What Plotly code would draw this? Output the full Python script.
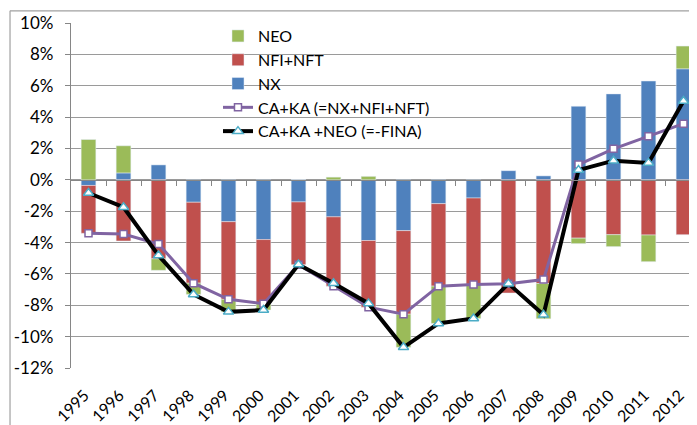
import plotly.graph_objects as go

years = [str(y) for y in range(1995, 2013)]
nx = [-0.36, 0.44, 0.95, -1.43, -2.67, -3.81, -1.41, -2.36, -3.87, -3.24,
      -1.52, -1.16, 0.59, 0.25, 4.69, 5.48, 6.30, 7.08]
nfi_nft = [-3.05, -3.90, -5.04, -5.16, -4.95, -4.09, -4.00, -4.42, -4.25, -5.33,
           -5.26, -5.51, -7.22, -6.61, -3.72, -3.50, -3.52, -3.50]
neo = [2.57, 1.73, -0.73, -0.72, -0.80, -0.40, 0.00, 0.17, 0.22, -2.11,
       -2.38, -2.17, 0.00, -2.25, -0.35, -0.76, -1.70, 1.45]
ca_ka = [-3.41, -3.46, -4.09, -6.59, -7.62, -7.90, -5.41, -6.78, -8.12, -8.57,
         -6.78, -6.67, -6.63, -6.36, 0.97, 1.98, 2.78, 3.58]
ca_ka_neo = [-0.84, -1.75, -4.82, -7.31, -8.42, -8.30, -5.40, -6.60, -7.88, -10.68,
             -9.16, -8.84, -6.62, -8.61, 0.62, 1.22, 1.08, 5.03]
y_ticks = [-12, -10, -8, -6, -4, -2, 0, 2, 4, 6, 8, 10]
y_tick_text = ["-12%", "-10%", "-8%", "-6%", "-4%", "-2%", "0%", "2%", "4%", "6%", "8%", "10%"]

FONT = "Lato"
fig = go.Figure()
fig.add_trace(go.Bar(x=years, y=nx, name="NX", marker_color="#4F81BD", legendrank=3))
fig.add_trace(go.Bar(x=years, y=nfi_nft, name="NFI+NFT", marker_color="#C0504D", legendrank=2))
fig.add_trace(go.Bar(x=years, y=neo, name="NEO", marker_color="#9BBB59", legendrank=1))
fig.add_trace(go.Scatter(x=years, y=ca_ka, name="CA+KA (=NX+NFI+NFT)", mode="lines+markers",
                         line=dict(color="#8064A2", width=3),
                         marker=dict(symbol="square", size=7, color="white",
                                     line=dict(color="#8064A2", width=1.5)),
                         legendrank=4))
fig.add_trace(go.Scatter(x=years, y=ca_ka_neo, name="CA+KA +NEO (=-FINA)", mode="lines+markers",
                         line=dict(color="black", width=4),
                         marker=dict(symbol="triangle-up", size=9, color="white",
                                     line=dict(color="#4BACC6", width=1.5)),
                         legendrank=5))
# helper trace so the zero-crossing axis (with tick marks) is drawn
fig.add_trace(go.Scatter(x=[None], y=[None], xaxis="x2", showlegend=False, hoverinfo="skip"))

# page body has an 8px margin, so the figure is sized to fit the window
xr = [-0.5, 17.386]
fig.update_layout(
    width=689, height=417,
    margin=dict(l=63, r=0, t=15, b=54),
    paper_bgcolor="white", plot_bgcolor="white",
    barmode="relative", bargap=0.58,
    font=dict(family=FONT, size=16, color="black"),
    showlegend=True,
    legend=dict(x=0.2348, y=1.0115, xanchor="left", yanchor="top",
                bgcolor="rgba(0,0,0,0)", traceorder="normal",
                font=dict(family=FONT, size=16, color="black")),
    xaxis=dict(range=xr, showgrid=False, showline=False, ticks="", tickangle=-45,
               zeroline=False, ticklabelshift=-4, ticklabelstandoff=14,
               tickfont=dict(family=FONT, size=16)),
    xaxis2=dict(range=xr, overlaying="x", anchor="free", position=12 / 22,
                showline=True, linecolor="#868686", linewidth=1.3,
                ticks="outside", ticklen=5, tickcolor="#868686",
                tickvals=[i + 0.5 for i in range(17)], showticklabels=False,
                showgrid=False, zeroline=False),
    yaxis=dict(range=[-12, 10], tickvals=y_ticks, ticktext=y_tick_text,
               showgrid=True, gridcolor="#9A9A9A", gridwidth=1,
               showline=True, linecolor="#868686", linewidth=1.3,
               ticks="outside", ticklen=5, tickcolor="#868686",
               ticklabelstandoff=8, zeroline=False,
               tickfont=dict(family=FONT, size=17)),
)
fig.add_shape(type="line", xref="paper", yref="paper", x0=-0.0974, x1=-0.0974, y0=-0.3, y1=1.0353,
              line=dict(color="#A0A0A0", width=1.2), layer="above")
fig.add_shape(type="line", xref="paper", yref="paper", x0=-0.0974, x1=1.05, y0=1.0353, y1=1.0353,
              line=dict(color="#A0A0A0", width=1.2), layer="above")
fig.write_html("out.html")
